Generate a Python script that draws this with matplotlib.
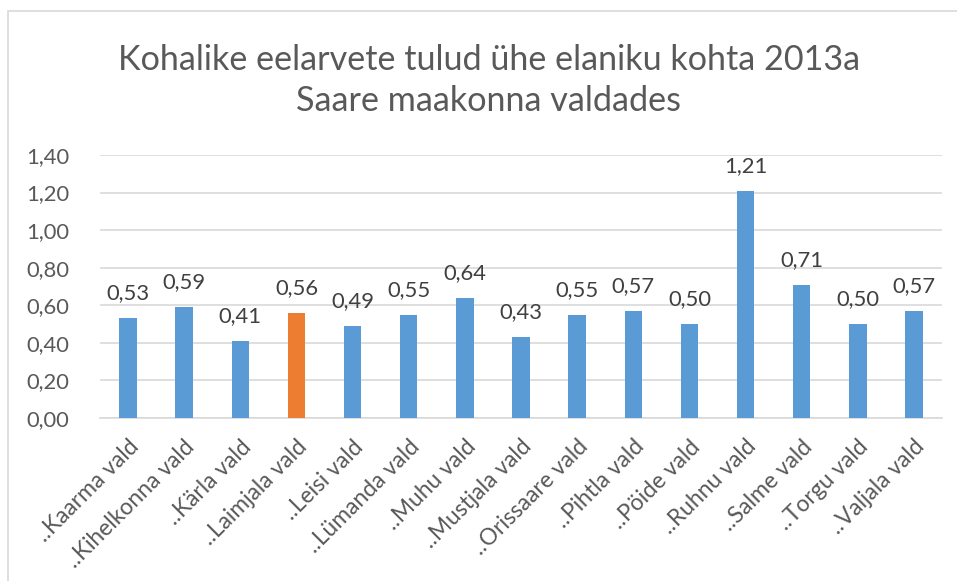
import matplotlib
matplotlib.use("Agg")
import matplotlib.pyplot as plt
from matplotlib.patches import Rectangle

# Data
vallad = ["..Kaarma vald", "..Kihelkonna vald", "..Kärla vald", "..Laimjala vald",
          "..Leisi vald", "..Lümanda vald", "..Muhu vald", "..Mustjala vald",
          "..Orissaare vald", "..Pihtla vald", "..Pöide vald", "..Ruhnu vald",
          "..Salme vald", "..Torgu vald", "..Valjala vald"]
tulud = [0.53, 0.59, 0.41, 0.56, 0.49, 0.55, 0.64, 0.43, 0.55, 0.57, 0.50, 1.21, 0.71, 0.50, 0.57]
esile = "..Laimjala vald"
yticks = [0.0, 0.2, 0.4, 0.6, 0.8, 1.0, 1.2, 1.4]

blue = "#5B9BD5"
orange = "#ED7D31"
grid_c = "#D9D9D9"
txt_c = "#595959"

plt.rcParams['font.family'] = ['Lato', 'DejaVu Sans']

fig = plt.figure(figsize=(9.57, 5.81), dpi=100)
ax = fig.add_axes([100/957, 163/581, 842/957, 263/581])

# chart border
fig.patches.append(Rectangle((8/957, -0.1), 1.2, 1 - 11/581 + 0.1, transform=fig.transFigure,
                             fill=False, edgecolor=grid_c, lw=1.2))

colors = [orange if v == esile else blue for v in vallad]
x = range(len(vallad))
bars = ax.bar(x, tulud, width=0.31, color=colors, zorder=3)

for i, v in enumerate(tulud):
    ax.annotate(f"{v:.2f}".replace(".", ","), (i, v), xytext=(0, 18), textcoords="offset points",
                ha="center", va="center", fontsize=15.8, color="#404040")

ax.set_xlim(-0.5, len(vallad) - 0.5)
ax.set_ylim(0, 1.4)
ax.set_yticks(yticks)
ax.set_yticklabels([f"{t:.2f}".replace(".", ",") for t in yticks], fontsize=15.8, color=txt_c)
ax.set_xticks(list(x))
ax.set_xticklabels(vallad, rotation=45, ha="right", rotation_mode="anchor", fontsize=16.5, color=txt_c)
ax.tick_params(axis="both", length=0)
ax.tick_params(axis="y", pad=22)
ax.tick_params(axis="x", pad=13)

ax.grid(axis="y", color=grid_c, lw=1.2, zorder=0)
for s in ["left", "right", "top"]:
    ax.spines[s].set_visible(False)
ax.spines["bottom"].set_color(grid_c)
ax.spines["bottom"].set_linewidth(1.2)

fig.text(489/957, 1 - 60/581, "Kohalike eelarvete tulud ühe elaniku kohta 2013a",
         ha="center", va="center", fontsize=24.6, color=txt_c)
fig.text(489/957, 1 - 101/581, "Saare maakonna valdades",
         ha="center", va="center", fontsize=24.6, color=txt_c)

fig.savefig("out.png", dpi=100)
